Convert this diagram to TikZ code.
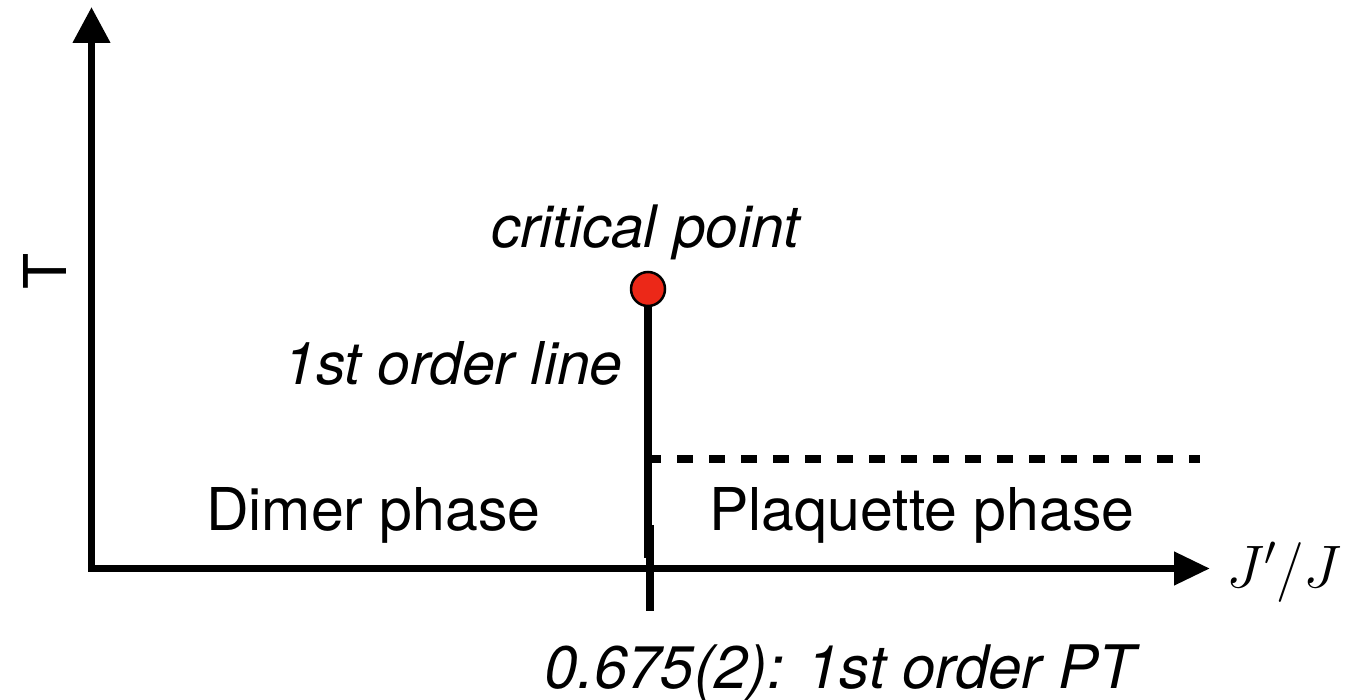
\RequirePackage{fix-cm}
\documentclass[tikz,border=0pt]{standalone}
\usepackage{fontspec}
\setmainfont{TeX Gyre Heros}
\usetikzlibrary{arrows.meta}
\definecolor{cpred}{RGB}{236,40,24}
\begin{document}
\begin{tikzpicture}[x=1pt,y=-1pt,
  axis/.style={line width=7.5pt, line join=miter},
  tipY/.tip={Triangle[width=36pt,length=36pt]},
  tipX/.tip={Triangle[width=32pt,length=36pt]},
  transition/.style={line width=8.5pt},
  crossover/.style={line width=8pt, dash pattern=on 16pt off 16pt},
  lbl/.style={inner sep=0pt, font=\fontsize{59}{70}\selectfont},
  ilbl/.style={lbl, font=\fontsize{59}{70}\selectfont\itshape},
  cpoint/.style={circle, draw=black, line width=2.5pt, fill=cpred, minimum size=34pt, inner sep=0pt}
]
\useasboundingbox (0,0) rectangle (1362,700);

% axes
\coordinate (ytip) at (91.5,7);
\coordinate (origin) at (91.5,568.5);
\coordinate (xtip) at (1210,568.5);
\draw[axis, tipY-tipX] (ytip) -- (origin) -- (xtip);

% first-order line ending in the critical point
\node[cpoint] (cp) at (648,289) {};
\coordinate (lineend) at (648,558);
\draw[transition] (cp.south) -- (lineend);
\coordinate (ticktop) at (650,525);
\coordinate (tickbot) at (650,611);
\draw[transition] (ticktop) -- (tickbot);

% dashed crossover line
\coordinate (dashstart) at (645,459);
\coordinate (dashend) at (1200,459);
\draw[crossover] (dashstart) -- (dashend);

% labels
\node[ilbl, font=\fontsize{58.5}{70}\selectfont\itshape, anchor=base west] (cplabel) at (491,248) {critical point};
\node[ilbl, anchor=base west] (linelabel) at (283,384) {1st order line};
\node[lbl, anchor=base west] (dimer) at (206,530) {Dimer phase};
\node[lbl, anchor=base west] (plaq) at (709,530) {Plaquette phase};
\node[ilbl, font=\fontsize{60}{70}\selectfont\itshape, anchor=base west] (ptlabel) at (544,688) {0.675(2): 1st order PT};
\node[lbl, rotate=90] (tlabel) at (45,271) {T};
\node[inner sep=0pt, font=\fontsize{60}{70}\selectfont] (xlabel) at (1284,572) {$J'/J$};
\end{tikzpicture}
\end{document}
